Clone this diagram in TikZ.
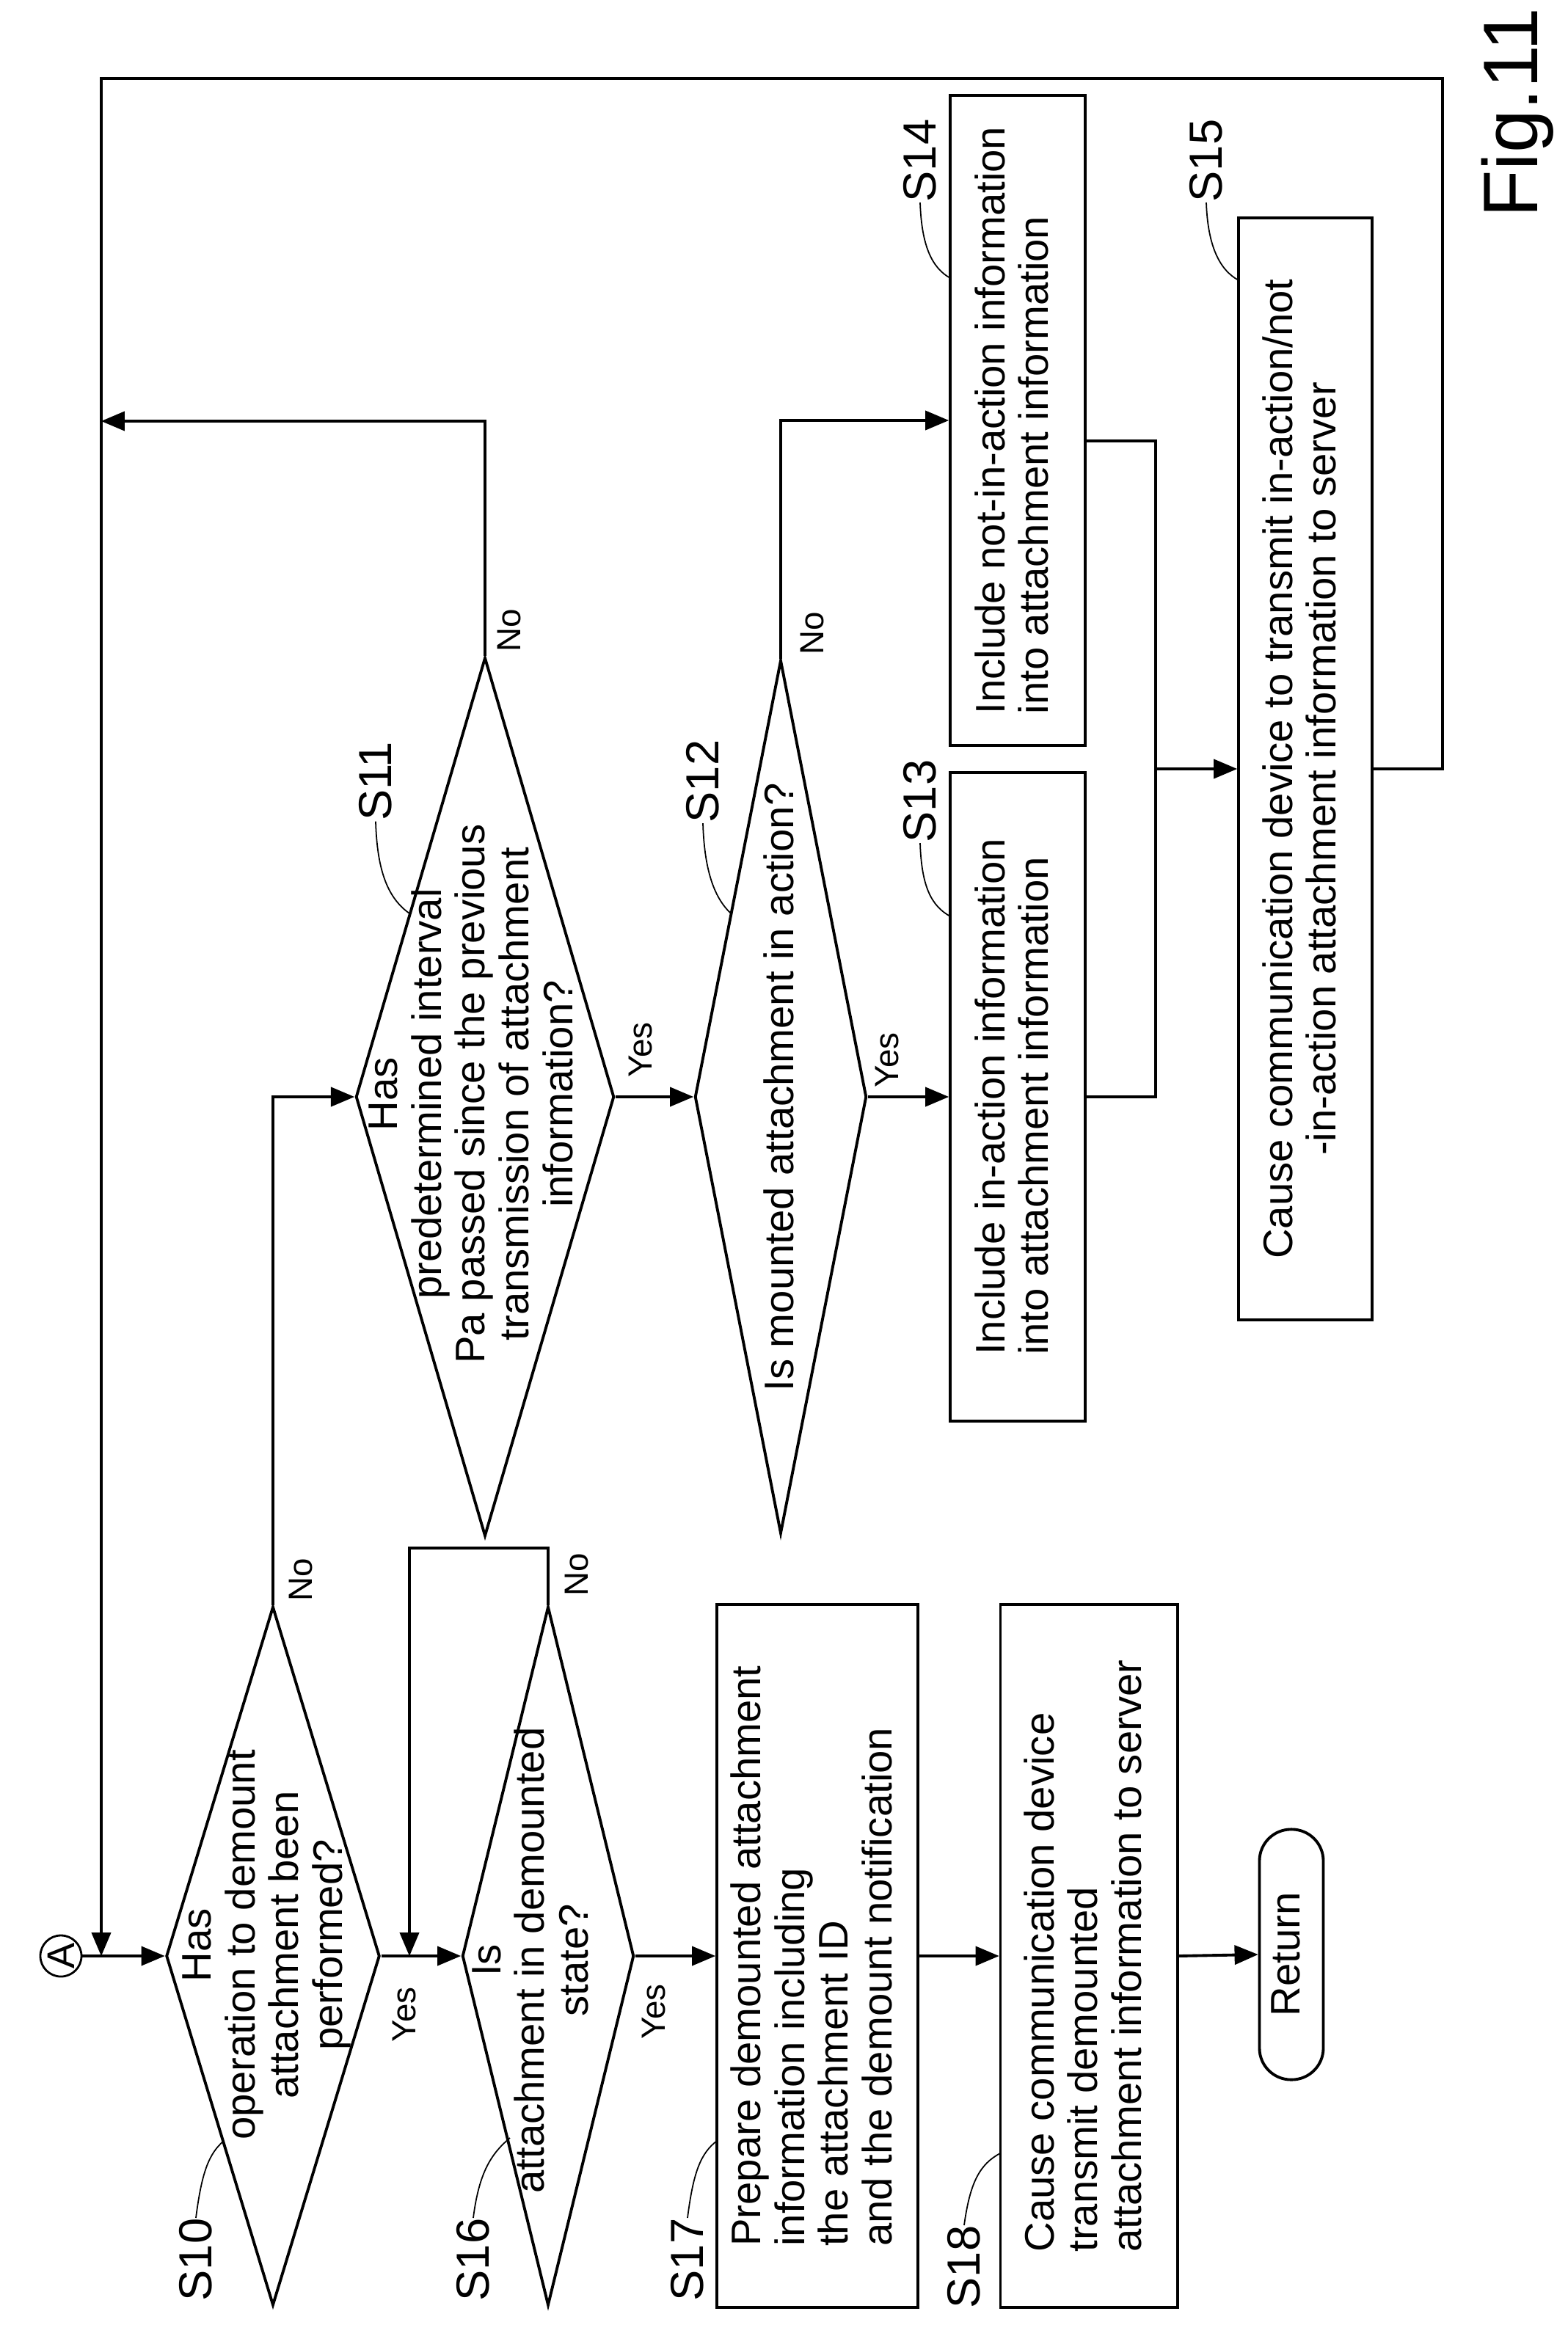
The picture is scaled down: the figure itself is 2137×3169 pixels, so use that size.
\documentclass[tikz,border=0pt]{standalone}
\usepackage{fontspec}
\setmainfont{Liberation Sans}
\usetikzlibrary{arrows,shapes.geometric}
\newcommand{\vt}[2][c]{\rotatebox{90}{\begin{tabular}{@{}#1@{}}#2\end{tabular}}}
\tikzset{
flow/.style={line width=1.1pt},
arr/.style={flow,-triangle 45},
decision/.style={diamond,draw,line width=1.1pt,inner sep=0pt},
process/.style={rectangle,draw,line width=1.1pt,inner sep=0pt,font=\fontsize{16}{17}\selectfont},
txt/.style={inner sep=0pt,font=\fontsize{16}{17}\selectfont},
answer/.style={rotate=90,inner sep=0pt,font=\fontsize{13}{13}\selectfont},
steplab/.style={rotate=90,inner sep=0pt,font=\fontsize{18}{18}\selectfont},
leader/.style={line width=0.5pt}
}

\begin{document}
\begin{tikzpicture}[x=0.01cm,y=-0.01cm]
\useasboundingbox (0,0) rectangle (2137,3169);

%%Start
\node[circle,draw,line width=0.8pt,minimum size=0.56cm,inner sep=0pt,font=\fontsize{15}{15}\selectfont] (A) at (83,2666) {\rotatebox{90}{A}};

%%Decisions
\node[decision,minimum width=2.91cm,minimum height=9.52cm] (d10) at (372,2666) {};
\node[txt] (t10) at (365,2651) {\vt{Has\\operation to demount\\attachment been\\performed?}};
\node[decision,minimum width=2.34cm,minimum height=9.52cm] (d16) at (747,2666) {};
\node[txt] (t16) at (730,2672) {\vt{Is\\attachment in demounted\\state?}};
\node[decision,minimum width=3.52cm,minimum height=11.97cm] (d11) at (661,1495) {};
\node[txt] (t11) at (649,1491) {\vt{Has\\predetermined interval\\Pa passed since the previous\\transmission of attachment\\information?}};
\node[decision,minimum width=2.34cm,minimum height=11.9cm] (d12) at (1064,1495) {};
\node[txt] (t12) at (1070,1482) {\vt{Is mounted attachment in action?}};

%%Processes
\node[process,minimum width=1.84cm,minimum height=8.83cm] (s13) at (1387,1495) {\vt[l]{Include in-action information\\into attachment information}};
\node[process,minimum width=1.84cm,minimum height=8.86cm] (s14) at (1387,573) {\vt[l]{Include not-in-action information\\into attachment information}};
\node[process,minimum width=1.82cm,minimum height=15.01cm] (s15) at (1779,1048) {\vt{Cause communication device to transmit in-action/not\\-in-action attachment information to server}};
\node[process,minimum width=2.74cm,minimum height=9.57cm] (s17) at (1114,2666) {\vt[l]{Prepare demounted attachment\\information including\\the attachment ID\\and the demount notification}};
\node[process,minimum width=2.41cm,minimum height=9.57cm] (s18) at (1484,2666) {\vt[l]{Cause communication device\\transmit demounted\\attachment information to server}};
\node[process,rounded corners=0.43cm,minimum width=0.87cm,minimum height=3.41cm] (ret) at (1760,2664) {\vt{Return}};

%%Corners
\coordinate (topL) at (138,107);
\coordinate (topR) at (1966,107);
\coordinate (join) at (1575,1048);
\coordinate (back) at (138,574);
\coordinate (loop16) at (558,2110);
\coordinate (s14out) at ([yshift=-0.28cm]s14.east);

%%Main line
\draw[arr] (A) -- (d10.west);
\draw[arr] (d10.east) -- (d16.west);
\draw[arr] (d16.east) -- (s17.west);
\draw[arr] (s17.east) -- (s18.west);
\draw[arr] (s18.east) -- (ret.west);
\draw[arr] (d10.north) -- (d10.north |- d11.west) -- (d11.west);
\draw[arr] (d11.east) -- (d12.west);
\draw[arr] (d12.east) -- (s13.west);
\draw[arr] (d11.north) -- (d11.north |- back) -- (back);
\draw[arr] (d12.north) -- (d12.north |- s14.west) -- (s14.west);
\draw[flow] (s13.east) -- (join |- s13.east) -- (join);
\draw[flow] (s14out) -- (join |- s14out) -- (join);
\draw[arr] (join) -- (s15.west);
\draw[arr] (s15.east) -- (topR |- s15.east) -- (topR) -- (topL) -- (topL |- A);
\draw[arr] (d16.north) -- (d16.north |- loop16) -- (loop16) -- (loop16 |- A);

%%Answers
\node[answer] (n10) at (410,2153) {No};
\node[answer] (y10) at (551,2746) {Yes};
\node[answer] (n16) at (786,2146) {No};
\node[answer] (y16) at (891,2742) {Yes};
\node[answer] (n11) at (694,859) {No};
\node[answer] (y11) at (873,1431) {Yes};
\node[answer] (n12) at (1107,863) {No};
\node[answer] (y12) at (1209,1445) {Yes};

%%Step labels
\node[steplab] (l10) at (267,3080) {S10};
\node[steplab] (l16) at (645,3080) {S16};
\node[steplab] (l17) at (937,3080) {S17};
\node[steplab] (l18) at (1314,3090) {S18};
\node[steplab] (l11) at (512,1065) {S11};
\node[steplab] (l12) at (958,1065) {S12};
\node[steplab] (l13) at (1254,1092) {S13};
\node[steplab] (l14) at (1254,219) {S14};
\node[steplab] (l15) at (1644,219) {S15};
\draw[leader] (l10.east) .. controls (275,2960) and (285,2935) .. (305,2918);
\draw[leader] (l16.east) .. controls (653,2960) and (670,2935) .. (695,2914);
\draw[leader] (l17.east) .. controls (945,2960) and (955,2935) .. (977,2918);
\draw[leader] (l18.east) .. controls (1322,2975) and (1335,2950) .. (1363,2935);
\draw[leader] (l11.west) .. controls (514,1190) and (530,1225) .. (558,1245);
\draw[leader] (l12.west) .. controls (960,1190) and (975,1225) .. (996,1245);
\draw[leader] (l13.west) .. controls (1256,1210) and (1270,1235) .. (1295,1249);
\draw[leader] (l14.west) .. controls (1256,335) and (1270,365) .. (1295,379);
\draw[leader] (l15.west) .. controls (1646,335) and (1662,368) .. (1688,382);

%%Caption
\node[rotate=90,inner sep=0pt,font=\fontsize{30}{30}\selectfont] (fig) at (2068,154) {Fig.11};
\end{tikzpicture}
\end{document}
